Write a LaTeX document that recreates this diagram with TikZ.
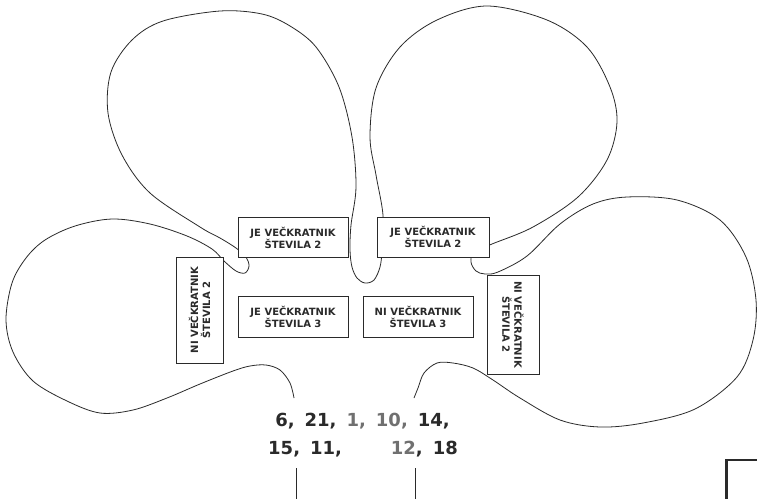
\documentclass[tikz,border=0pt]{standalone}
\usepackage{fontspec}
\setmainfont{DejaVu Sans}
\newfontfamily\numfont[WordSpace=1.6]{DejaVu Sans}
\definecolor{ink}{HTML}{2A2A2A}
\definecolor{lightink}{HTML}{707070}
\begin{document}
\begin{tikzpicture}[x=1pt,y=-1pt,
  outline/.style={draw=ink, line width=0.8pt, line join=round},
  box/.style={draw=ink, line width=0.9pt, fill=white, text=ink, align=center,
    font=\bfseries\fontsize{10}{12}\selectfont, inner sep=0pt},
  num/.style={font=\numfont\bfseries\fontsize{18}{20}\selectfont, text=ink, inner sep=0pt}]
\useasboundingbox (0,0) rectangle (757,499);
\fill[white] (0,0) rectangle (757,499);

% flower outline
\draw[outline] plot[smooth, tension=0.55] coordinates {
(294,398) (290,383) (280,370) (266,365) (250,366) (233,371) (200,384) (167,398)
(133,410) (100,413) (67,401) (33,381) (13,352) (6,320) (12,283) (26,258) (45,240)
(75,226) (112,219) (150,224) (187,236) (212,249) (224,261) (236,271) (245,273)
(249,266) (246,257) (236,248) (220,238) (200,227) (150,193) (122,155) (108,113)
(111,72) (132,40) (163,21) (220,11) (262,14) (290,26) (316,47) (339,87) (352,137)
(356,187) (351,225) (350,250) (352,267) (357,278) (365,283) (374,280) (380,267)
(382,250) (383,215) (376,175) (370,137) (376,88) (400,47) (437,20) (487,6)
(547,20) (587,47) (610,87) (617,122) (607,160) (578,197) (533,227) (492,244)
(474,252) (471,262) (476,271) (485,274) (498,272) (527,256) (560,224) (593,204)
(627,197) (677,200) (720,220) (746,257) (756,300) (753,340) (737,377) (695,409)
(643,423) (600,427) (560,420) (520,398) (493,380) (473,368) (453,363) (437,363)
(424,373) (418,388) (414,398)
};

% boxes
\node[box, minimum width=110pt, minimum height=40pt] (tl) at (293,237.5) {JE VEČKRATNIK\\ŠTEVILA 2};
\node[box, minimum width=112pt, minimum height=40pt] (tr) at (433,237) {JE VEČKRATNIK\\ŠTEVILA 2};
\node[box, minimum width=110pt, minimum height=41pt] (ml) at (293,316.5) {JE VEČKRATNIK\\ŠTEVILA 3};
\node[box, minimum width=110pt, minimum height=41pt] (mr) at (418,316.5) {NI VEČKRATNIK\\ŠTEVILA 3};
\node[box, minimum width=106pt, minimum height=47pt, rotate=90] (lv) at (199.5,310) {NI VEČKRATNIK\\ŠTEVILA 2};
\node[box, minimum width=99pt, minimum height=52pt, rotate=-90] (rv) at (513,324.5) {NI VEČKRATNIK\\ŠTEVILA 2};

% numbers
\node[num, anchor=base] (n1) at (362.5,426.7) {6, 21, \textcolor{lightink}{1, 10,} 14,};
\node[num, anchor=base west] (n2) at (268,454) {15, 11,};
\node[num, anchor=base east] (n3) at (458,454) {\textcolor{lightink}{12}, 18};

% stems
\coordinate (s1a) at (296.5,468);
\coordinate (s1b) at (296.5,499);
\coordinate (s2a) at (415,468);
\coordinate (s2b) at (415,499);
\draw[outline] (s1a) -- (s1b);
\draw[outline] (s2a) -- (s2b);

% corner mark
\coordinate (c1) at (757,460);
\coordinate (c2) at (726.5,460);
\coordinate (c3) at (726.5,499);
\draw[draw=ink, line width=2.6pt] (c1) -- (c2) -- (c3);
\end{tikzpicture}
\end{document}
